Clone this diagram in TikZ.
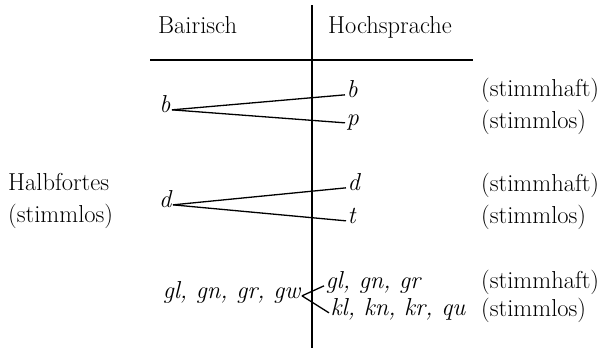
\documentclass[tikz,border=0pt]{standalone}
\usepackage{tikz}
\usetikzlibrary{positioning,calc}

\begin{document}
\begin{tikzpicture}[
    x=1pt, y=-1pt,
    font=\fontsize{24.5}{29}\selectfont,
    word/.style={
        inner sep=0pt,
        anchor=base west
    },
    sound/.style={
        inner sep=1.5pt,
        text height=1ex,
        text depth=0pt,
        font=\fontsize{24.5}{29}\selectfont\itshape
    },
    rule/.style={line width=1.3pt},
    link/.style={line width=1.3pt}
]

\useasboundingbox (0,0) rectangle (606,348);

% table rules
\coordinate (vtop) at (312,5);
\coordinate (vbot) at (312,348);
\coordinate (hleft) at (150,60);
\coordinate (hright) at (473,60);
\draw[rule] (vtop) -- (vbot);
\draw[rule] (hleft) -- (hright);

% headings
\node[word] (bair) at (158,34) {Bairisch};
\node[word] (hoch) at (328,34) {Hochsprache};

\node[word] (halb) at (8,190) {Halbfortes};
\node[word] (halbnote) at (8,222) {(stimmlos)};

% b
\node[sound, anchor=base east] (lb) at (172,112) {b};
\node[sound, anchor=base west] (rb) at (345,97) {b};
\node[sound, anchor=base west] (rp) at (345,125) {p};
\node[word] (vb) at (481,96) {(stimmhaft)};
\node[word] (lp) at (481,128) {(stimmlos)};

\draw[link] (lb.east) -- (rb.west);
\draw[link] (lb.east) -- (rp.west);

% d
\node[sound, anchor=base east] (ld) at (173,207) {d};
\node[sound, anchor=base west] (rd) at (346,190) {d};
\node[sound, anchor=base west] (rt) at (346,223) {t};
\node[word] (vd) at (481,191) {(stimmhaft)};
\node[word] (lt) at (481,223) {(stimmlos)};

\draw[link] (ld.east) -- (rd.west);
\draw[link] (ld.east) -- (rt.west);

% clusters
\node[sound, anchor=base east] (lg) at (302,298) {gl, gn, gr, gw};
\node[sound, anchor=base west] (rg) at (324,288) {gl, gn, gr};
\node[sound, anchor=base west] (rk) at (329,315) {kl, kn, kr, qu};
\node[word] (vg) at (481,288) {(stimmhaft)};
\node[word] (lk) at (481,316) {(stimmlos)};

\draw[link] (lg.east) -- (rg.west);
\draw[link] (lg.east) -- (rk.west);

\end{tikzpicture}
\end{document}
